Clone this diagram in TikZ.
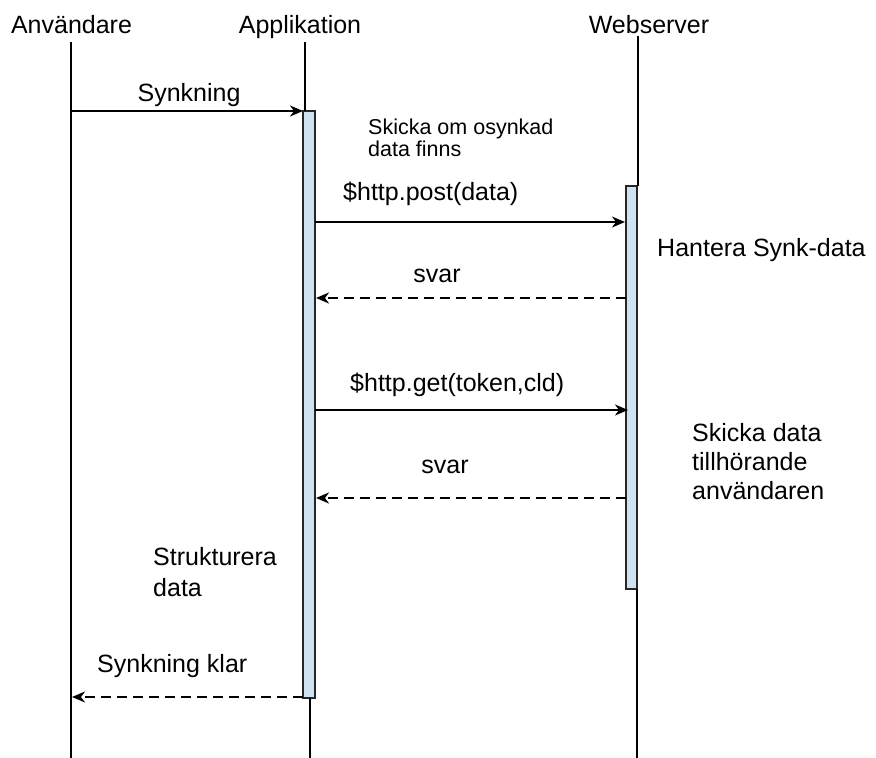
\documentclass[tikz,border=0pt]{standalone}
\usepackage{fontspec}
\setmainfont{Liberation Sans}
\usetikzlibrary{arrows.meta}
\begin{document}
\begin{tikzpicture}[x=1pt,y=-1pt,
  lifeline/.style={line width=1.8pt,black},
  actbar/.style={draw=black!85,line width=1.3pt,fill=bluebar},
  msg/.style={line width=1.6pt,-{Stealth[length=13pt,width=11pt,inset=4pt]}},
  reply/.style={msg,dash pattern=on 10pt off 6pt},
  head/.style={font=\fontsize{25}{29}\selectfont,anchor=base,inner sep=0pt},
  lbl/.style={font=\fontsize{25}{29}\selectfont,anchor=base west,inner sep=0pt,align=left},
  lblc/.style={font=\fontsize{25}{29}\selectfont,anchor=base,inner sep=0pt},
  small/.style={font=\fontsize{21.5}{22}\selectfont,anchor=base west,inner sep=0pt,align=left}
]
\definecolor{bluebar}{HTML}{CFE2F3}
\useasboundingbox (0,0) rectangle (876,758);
% headers
\node[head] (hU) at (71.5,33) {Användare};
\node[head] (hA) at (300,33) {Applikation};
\node[head] (hW) at (649,33) {Webserver};
% lifeline coordinates
\coordinate (uTop) at (71,42);
\coordinate (uBot) at (71,758);
\coordinate (aTop) at (305,42);
\coordinate (aBot) at (310,758);
\coordinate (wTop) at (638,36);
\coordinate (wBot) at (637,758);
% activation bars
\path[actbar] (303,111) rectangle (315,698);
\path[actbar] (626,186) rectangle (637,589);
\coordinate (barAtop) at (305,111);
\coordinate (barAbot) at (310,698);
\coordinate (barWtop) at (638,186);
\coordinate (barWbot) at (637,589);
% lifelines
\draw[lifeline] (uTop) -- (uBot);
\draw[lifeline] (aTop) -- (barAtop);
\draw[lifeline] (barAbot) -- (aBot);
\draw[lifeline] (wTop) -- (barWtop);
\draw[lifeline] (barWbot) -- (wBot);
% message endpoints
\coordinate (m1s) at (71,111);   \coordinate (m1e) at (303,111);
\coordinate (m2s) at (315,222);  \coordinate (m2e) at (625,222);
\coordinate (m3s) at (626,298);  \coordinate (m3e) at (316,298);
\coordinate (m4s) at (315,410);  \coordinate (m4e) at (628,410);
\coordinate (m5s) at (626,498);  \coordinate (m5e) at (316,498);
\coordinate (m6s) at (303,697);  \coordinate (m6e) at (72,697);
\draw[msg] (m1s) -- (m1e);
\draw[msg] (m2s) -- (m2e);
\draw[reply] (m3s) -- (m3e);
\draw[msg] (m4s) -- (m4e);
\draw[reply] (m5s) -- (m5e);
\draw[reply] (m6s) -- (m6e);
% labels
\node[lblc] (l1) at (189,101) {Synkning};
\node[small] (l2) at (368,156) {Skicka om osynkad\\data finns};
\node[lbl] (l3) at (343,200) {\$http.post(data)};
\node[lbl] (l4) at (657,256) {Hantera Synk-data};
\node[lblc] (l5) at (437,282) {svar};
\node[lbl] (l6) at (350,391) {\$http.get(token,cld)};
\node[lbl] (l7) at (692,499) {Skicka data\\tillhörande\\användaren};
\node[lblc] (l8) at (445,473) {svar};
\node[lbl,font=\fontsize{25}{31}\selectfont] (l9) at (153,596) {Strukturera\\data};
\node[lbl] (l10) at (97,672) {Synkning klar};
\end{tikzpicture}
\end{document}
